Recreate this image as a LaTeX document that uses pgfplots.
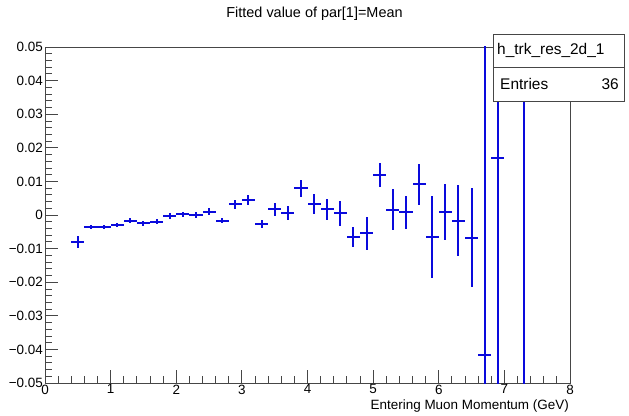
\documentclass[border=0pt]{standalone}
\usepackage{fontspec}
\setmainfont{Liberation Sans}
\usepackage{pgfplots}
\usepackage{pgfplotstable}
\pgfplotsset{compat=1.18}
\definecolor{rootblue}{RGB}{10,10,220}
\definecolor{framegray}{RGB}{70,70,70}

% bin centre, fitted mean, half bin width, error on mean
\pgfplotstableread{
x    y        ex   ey
0.5  -0.0080  0.1  0.0017
0.7  -0.0037  0.1  0.0006
0.9  -0.0037  0.1  0.0006
1.1  -0.0030  0.1  0.0007
1.3  -0.0017  0.1  0.0007
1.5  -0.0025  0.1  0.0007
1.7  -0.0020  0.1  0.0007
1.9  -0.0003  0.1  0.0008
2.1   0.0002  0.1  0.0008
2.3   0.0001  0.1  0.0009
2.5   0.0010  0.1  0.0010
2.7  -0.0017  0.1  0.0008
2.9   0.0032  0.1  0.0014
3.1   0.0045  0.1  0.0015
3.3  -0.0027  0.1  0.0012
3.5   0.0017  0.1  0.0019
3.7   0.0005  0.1  0.0021
3.9   0.0080  0.1  0.0025
4.1   0.0032  0.1  0.0030
4.3   0.0017  0.1  0.0032
4.5   0.0005  0.1  0.0038
4.7  -0.0065  0.1  0.0030
4.9  -0.0055  0.1  0.0048
5.1   0.0120  0.1  0.0036
5.3   0.0015  0.1  0.0061
5.5   0.0008  0.1  0.0050
5.7   0.0091  0.1  0.0062
5.9  -0.0065  0.1  0.0122
6.1   0.0008  0.1  0.0083
6.3  -0.0017  0.1  0.0106
6.5  -0.0067  0.1  0.0147
6.7  -0.0417  0.1  0.1200
6.9   0.0171  0.1  0.1000
7.3   0.0700  0.1  0.2000
}\meandata

\begin{document}
\begin{tikzpicture}[x=1bp,y=1bp]
\useasboundingbox (0,0) rectangle (629,415);
\begin{axis}[
    at={(45bp,32bp)}, anchor=south west,
    width=525bp, height=336bp, scale only axis,
    xmin=0, xmax=8, ymin=-0.05, ymax=0.05,
    xtick={0,1,2,3,4,5,6,7,8},
    ytick={-0.05,-0.04,-0.03,-0.02,-0.01,0,0.01,0.02,0.03,0.04,0.05},
    yticklabels={−0.05,−0.04,−0.03,−0.02,−0.01,0,0.01,0.02,0.03,0.04,0.05},
    scaled y ticks=false,
    /pgf/number format/assume math mode=true,
    minor x tick num=4, minor y tick num=4,
    tick pos=left, tick align=inside,
    major tick length=13bp, minor tick length=6.5bp,
    axis line style={framegray, line width=0.8bp},
    every tick/.style={framegray, line width=0.8bp},
    tick label style={font=\fontsize{13.5}{15}\selectfont},
    yticklabel style={inner sep=2bp},
    xticklabel style={inner sep=1.5bp},
]
\addplot[draw=none, mark=none,
    error bars/.cd, x dir=both, x explicit, y dir=both, y explicit,
    error mark=none, error bar style={line width=2bp, draw=rootblue}]
    table[x=x, y=y, x error=ex, y error=ey] {\meandata};
\end{axis}
% title and axis label
\node[anchor=center, font=\fontsize{14.5}{17}\selectfont] at (314.5,401) {Fitted value of par[1]=Mean};
\node[anchor=south east, inner sep=0pt, font=\fontsize{13.5}{15}\selectfont] at (569,3) {Entering Muon Momentum (GeV)};
% statistics box
\draw[framegray, line width=0.8bp, fill=white] (493,314) rectangle (624,381);
\draw[framegray, line width=0.8bp] (493,348) -- (624,348);
\node[anchor=west, inner sep=0pt, font=\fontsize{15.5}{17}\selectfont] at (497,364.5) {h\_trk\_res\_2d\_1};
\node[anchor=west, inner sep=0pt, font=\fontsize{15.5}{17}\selectfont] at (500,331) {Entries};
\node[anchor=east, inner sep=0pt, font=\fontsize{15.5}{17}\selectfont] at (619,331) {36};
\end{tikzpicture}
\end{document}
